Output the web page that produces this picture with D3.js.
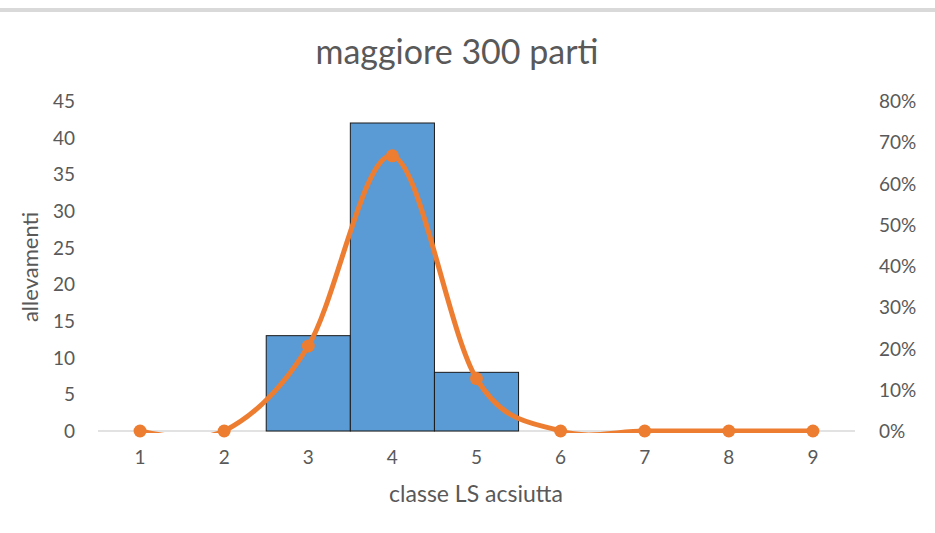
<!DOCTYPE html>
<html><head><meta charset="utf-8">
<script src="https://cdn.jsdelivr.net/npm/d3@7"></script>
<style>body{margin:0;background:#fff;} text{font-family:Lato,"Open Sans",sans-serif;fill:#595959;}</style>
</head><body>
<svg id="c" width="935" height="533"></svg>
<script>
const categories = ["1","2","3","4","5","6","7","8","9"];
const counts = [0,0,13,42,8,0,0,0,0];
const shares = [0,0,0.206,0.667,0.127,0,0,0,0];
const leftTicks = [0,5,10,15,20,25,30,35,40,45];
const rightTicks = [0,0.1,0.2,0.3,0.4,0.5,0.6,0.7,0.8];

const svg = d3.select("#c");
svg.append("rect").attr("x",0).attr("y",8).attr("width",935).attr("height",4).attr("fill","#d9d9d9");

const x = d3.scaleBand().domain(categories).range([98,855]).padding(0);
const yL = d3.scaleLinear().domain([0,45]).range([431,101]);
const yR = d3.scaleLinear().domain([0,0.8]).range([431,101]);

svg.append("text").attr("x",457).attr("y",64).attr("text-anchor","middle").style("font-size","34px").text("maggiore 300 parti");

// baseline
svg.append("line").attr("x1",98).attr("x2",855).attr("y1",yL(0)).attr("y2",yL(0)).attr("stroke","#d9d9d9").attr("stroke-width",1.5);

// bars
svg.selectAll("rect.bar").data(categories).enter().append("rect").attr("class","bar")
  .attr("x",d=>x(d)).attr("width",x.bandwidth())
  .attr("y",(d,i)=>yL(counts[i])).attr("height",(d,i)=>yL(0)-yL(counts[i]))
  .attr("fill","#5B9BD5").attr("stroke","#1a1a1a").attr("stroke-width",1)
  .style("display",(d,i)=>counts[i]>0?null:"none");

// left axis
const la = svg.append("g").attr("transform","translate(75,0)")
  .call(d3.axisLeft(yL).tickValues(leftTicks).tickSize(0).tickPadding(0));
la.select(".domain").remove();
la.selectAll("text").style("font-size","19px").attr("fill","#595959").attr("dy","0.35em");

// right axis
const ra = svg.append("g").attr("transform","translate(879,0)")
  .call(d3.axisRight(yR).tickValues(rightTicks).tickSize(0).tickPadding(0).tickFormat(d3.format(".0%")));
ra.select(".domain").remove();
ra.selectAll("text").style("font-size","19px").attr("fill","#595959").attr("dy","0.35em");

// bottom axis
const ba = svg.append("g").attr("transform",`translate(0,${yL(0)})`)
  .call(d3.axisBottom(x).tickSize(0).tickPadding(20));
ba.select(".domain").remove();
ba.selectAll("text").style("font-size","19px").attr("fill","#595959");

// axis titles
svg.append("text").attr("transform","translate(38,267) rotate(-90)").attr("text-anchor","middle").style("font-size","22px").text("allevamenti");
svg.append("text").attr("x",476).attr("y",502).attr("text-anchor","middle").style("font-size","23px").text("classe LS acsiutta");

// line
svg.append("clipPath").attr("id","clip").append("rect").attr("x",0).attr("y",90).attr("width",935).attr("height",yR(0)-90+2);
const pts = categories.map((c,i)=>[x(c)+x.bandwidth()/2, yR(shares[i])]);
svg.append("path").attr("d",d3.line().curve(d3.curveCatmullRom.alpha(0))(pts))
  .attr("fill","none").attr("stroke","#ED7D31").attr("stroke-width",5).attr("clip-path","url(#clip)");
svg.selectAll("circle.pt").data(pts).enter().append("circle")
  .attr("cx",d=>d[0]).attr("cy",d=>d[1]).attr("r",6.5).attr("fill","#ED7D31");
</script>
</body></html>
